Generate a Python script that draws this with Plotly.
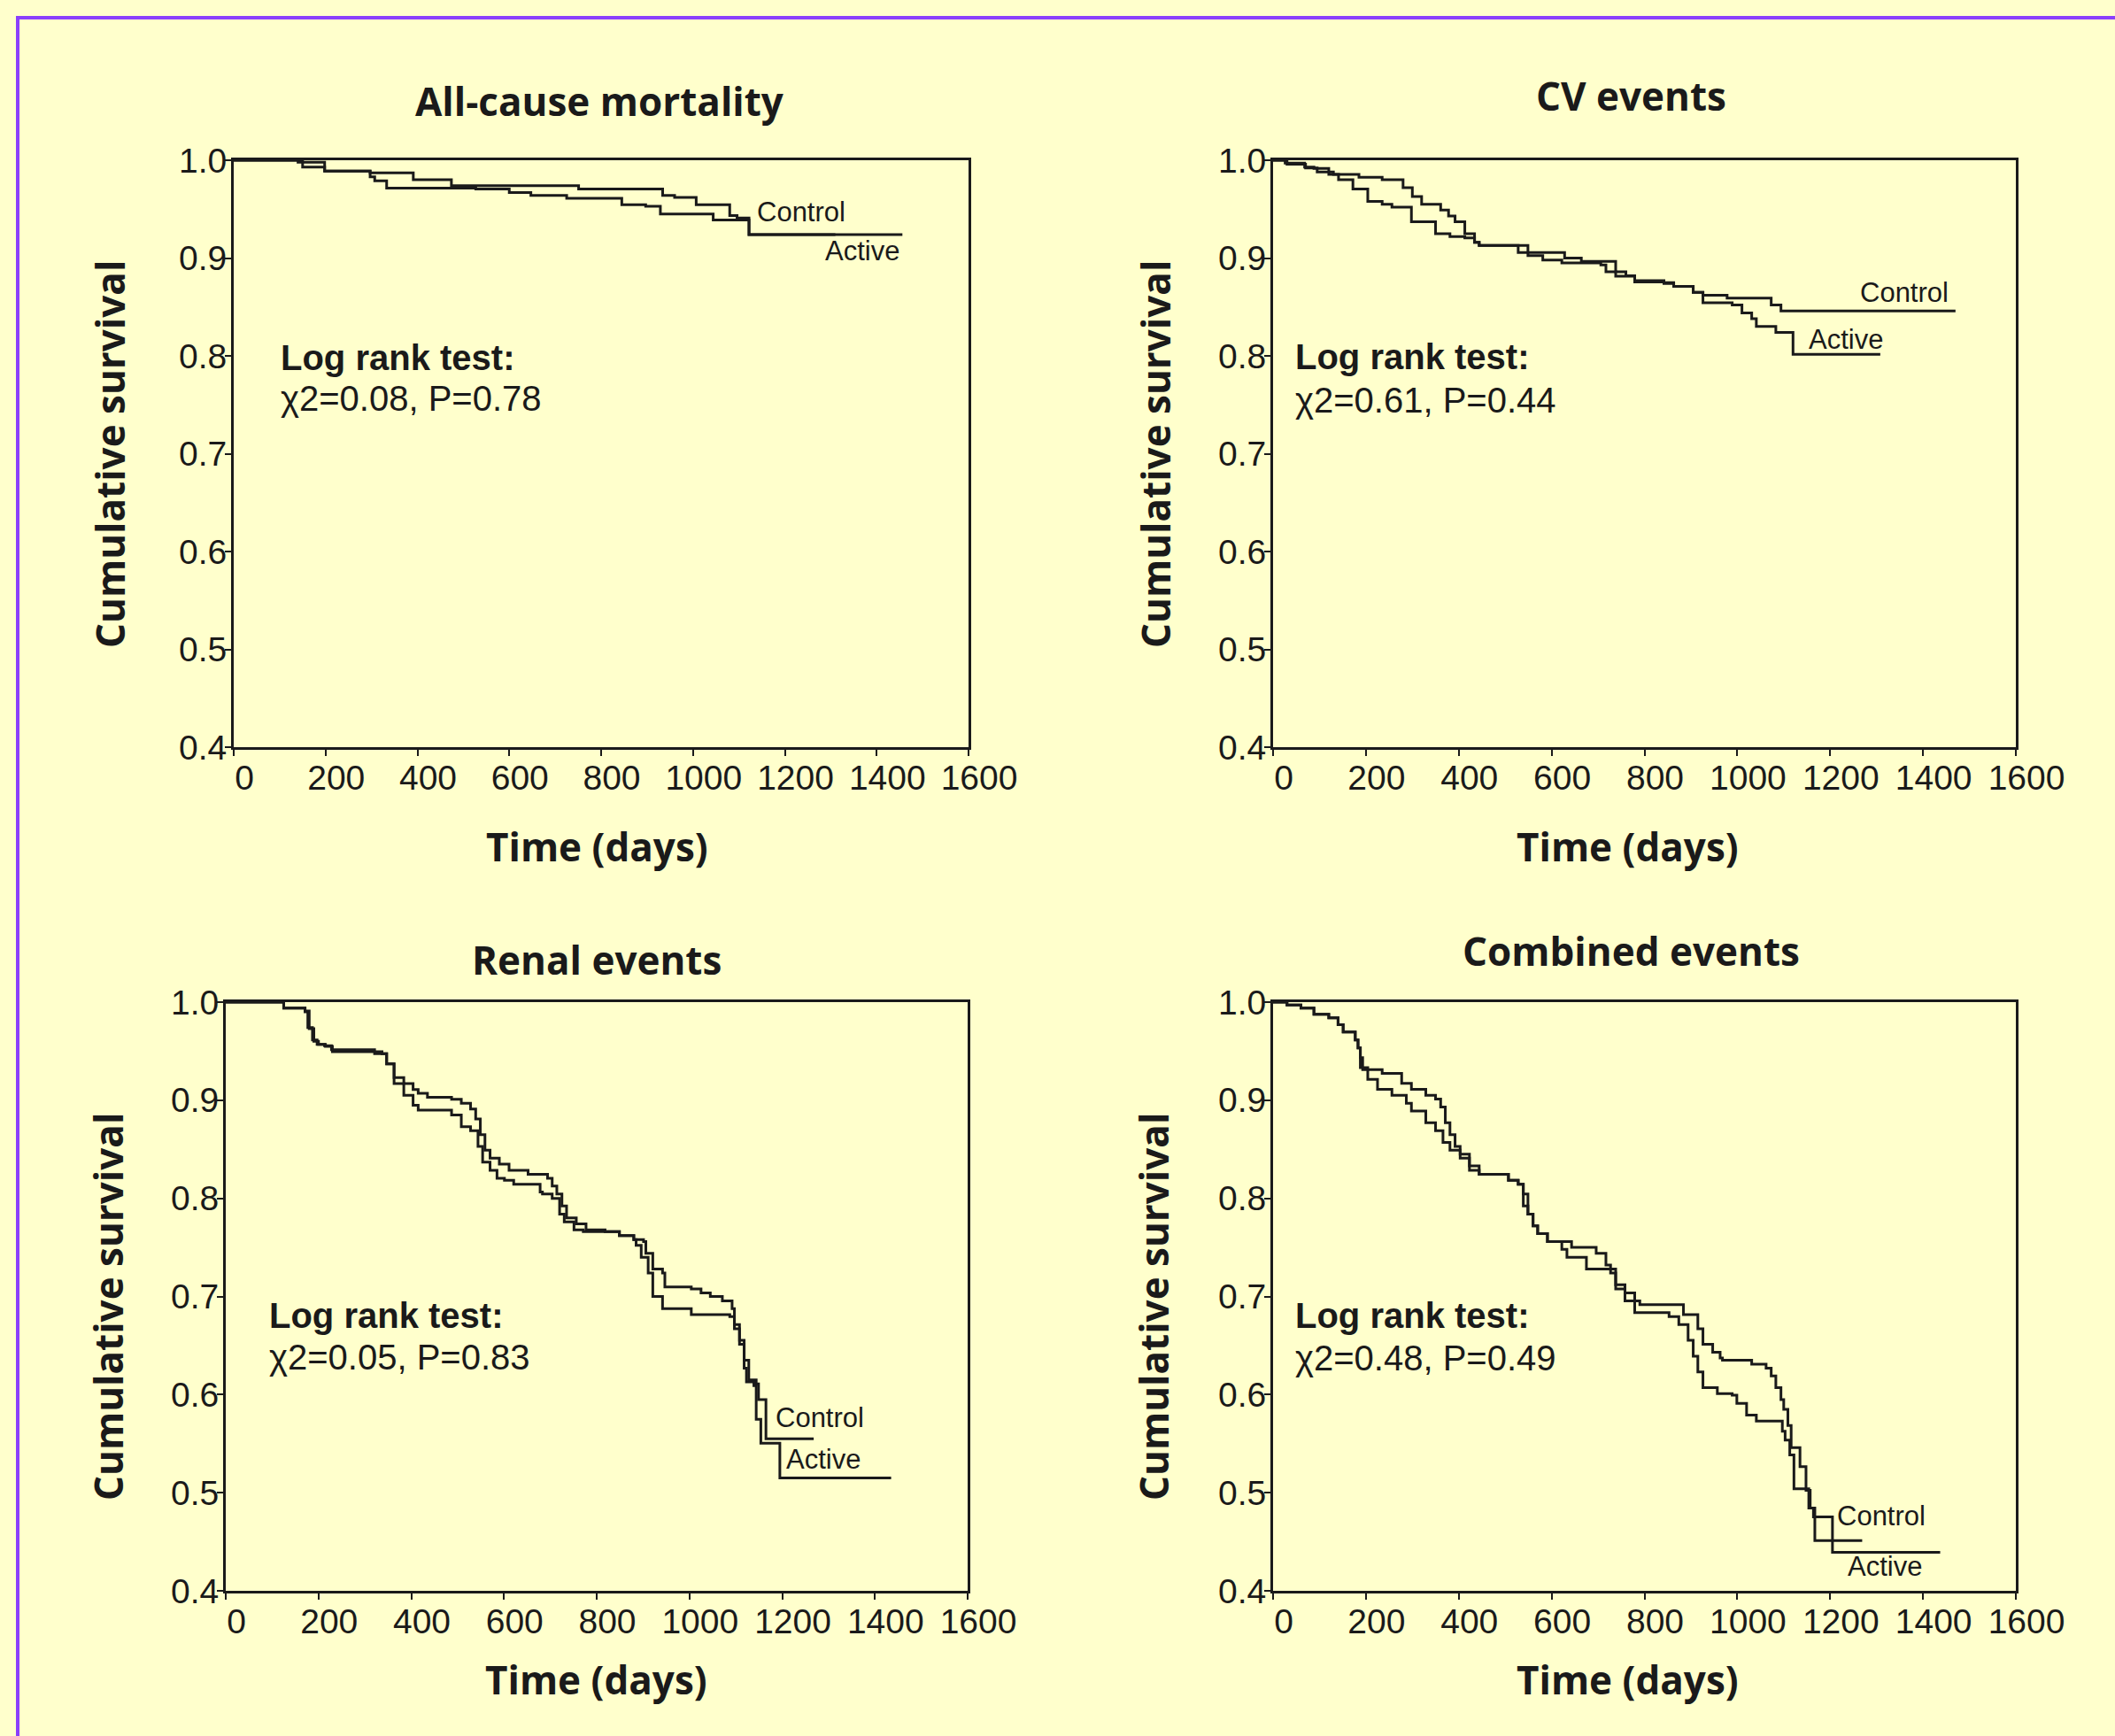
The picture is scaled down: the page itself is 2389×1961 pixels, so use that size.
import plotly.graph_objects as go

W, H = 2389, 1961

# ---------------- data (days, cumulative survival) ----------------
allcause_control = [(0, 1.0), (140, 0.998), (198, 0.989), (297, 0.987), (391, 0.980), (474, 0.974),
                    (751, 0.9705), (934, 0.964), (960, 0.962), (1007, 0.9545), (1080, 0.9435),
                    (1096, 0.941), (1122, 0.924), (1310, 0.924)]
allcause_active = [(0, 1.0), (150, 0.993), (198, 0.989), (297, 0.983), (307, 0.979), (333, 0.9715),
                   (527, 0.9705), (600, 0.967), (647, 0.964), (725, 0.961), (845, 0.9545), (897, 0.953),
                   (929, 0.945), (1044, 0.939), (1122, 0.924), (1456, 0.924)]

cv_control = [(0, 1.0), (30, 0.996), (70, 0.992), (95, 0.988), (130, 0.9855), (185, 0.9825), (235, 0.980),
              (280, 0.972), (300, 0.963), (320, 0.955), (361, 0.949), (378, 0.943), (392, 0.937),
              (413, 0.925), (434, 0.916), (444, 0.913), (528, 0.9056), (628, 0.900), (664, 0.8966),
              (738, 0.886), (760, 0.882), (779, 0.877), (842, 0.875), (863, 0.871), (905, 0.865),
              (926, 0.862), (978, 0.859), (1073, 0.852), (1094, 0.846), (1470, 0.846)]
cv_active = [(0, 1.0), (26, 0.997), (68, 0.993), (88, 0.9916), (120, 0.9855), (141, 0.980), (172, 0.9705),
             (204, 0.958), (235, 0.955), (256, 0.952), (298, 0.937), (350, 0.925), (381, 0.922),
             (413, 0.9207), (434, 0.916), (444, 0.913), (549, 0.9026), (581, 0.898), (622, 0.895),
             (706, 0.893), (717, 0.886), (738, 0.8815), (779, 0.8755), (842, 0.874), (863, 0.871),
             (905, 0.865), (926, 0.8543), (989, 0.852), (1010, 0.844), (1031, 0.838), (1041, 0.830),
             (1083, 0.824), (1120, 0.8015), (1308, 0.8015)]

renal_control = [(0, 1.0), (125, 0.994), (171, 0.990), (177, 0.974), (187, 0.9615), (197, 0.957),
                 (213, 0.9555), (228, 0.9514), (321, 0.9474), (347, 0.937), (363, 0.923), (384, 0.917),
                 (404, 0.911), (415, 0.907), (435, 0.903), (487, 0.901), (508, 0.897), (528, 0.891),
                 (539, 0.881), (549, 0.865), (559, 0.849), (570, 0.841), (590, 0.835), (611, 0.8285),
                 (652, 0.8245), (694, 0.8205), (704, 0.8125), (714, 0.8044), (725, 0.7923), (735, 0.780),
                 (756, 0.774), (777, 0.768), (818, 0.766), (849, 0.762), (880, 0.758), (901, 0.756),
                 (906, 0.744), (921, 0.728), (942, 0.724), (947, 0.7097), (1004, 0.7077), (1025, 0.7036),
                 (1045, 0.700), (1071, 0.6956), (1092, 0.6876), (1097, 0.6714), (1108, 0.6553),
                 (1118, 0.635), (1128, 0.615), (1144, 0.611), (1149, 0.595), (1165, 0.555), (1268, 0.555)]
renal_active = [(0, 1.0), (125, 0.994), (171, 0.991), (180, 0.973), (190, 0.960), (200, 0.957),
                (215, 0.955), (230, 0.9495), (337, 0.9474), (347, 0.937), (363, 0.917), (384, 0.905),
                (404, 0.895), (415, 0.890), (487, 0.885), (508, 0.873), (528, 0.869), (544, 0.853),
                (554, 0.837), (570, 0.8285), (585, 0.8205), (601, 0.8185), (621, 0.8144), (678, 0.8064),
                (683, 0.8044), (704, 0.800), (720, 0.784), (730, 0.776), (751, 0.768), (771, 0.766),
                (849, 0.762), (880, 0.758), (885, 0.752), (896, 0.740), (911, 0.724), (921, 0.700),
                (942, 0.6876), (1004, 0.6815), (1087, 0.6795), (1097, 0.667), (1108, 0.6513),
                (1118, 0.627), (1123, 0.613), (1139, 0.609), (1144, 0.5747), (1154, 0.5505),
                (1195, 0.515), (1435, 0.515)]

combined_control = [(0, 1.0), (30, 0.997), (60, 0.994), (88, 0.9877), (120, 0.984), (140, 0.977),
                    (151, 0.9696), (177, 0.9615), (183, 0.9534), (188, 0.9434), (193, 0.9313),
                    (235, 0.9273), (277, 0.9172), (298, 0.9112), (329, 0.9051), (350, 0.9011),
                    (361, 0.893), (371, 0.877), (381, 0.865), (392, 0.853), (403, 0.845), (423, 0.833),
                    (444, 0.8245), (507, 0.8185), (528, 0.8144), (539, 0.8044), (549, 0.784),
                    (560, 0.772), (570, 0.764), (591, 0.756), (643, 0.750), (696, 0.744), (717, 0.732),
                    (727, 0.724), (738, 0.712), (758, 0.7036), (779, 0.6956), (790, 0.6916),
                    (884, 0.6815), (915, 0.667), (926, 0.6513), (947, 0.6432), (963, 0.6372),
                    (968, 0.635), (1031, 0.631), (1062, 0.627), (1073, 0.619), (1083, 0.607),
                    (1094, 0.595), (1100, 0.585), (1109, 0.5686), (1116, 0.546), (1135, 0.5265),
                    (1148, 0.5025), (1157, 0.4844), (1167, 0.4513), (1269, 0.4513)]
combined_active = [(0, 1.0), (30, 0.997), (60, 0.994), (88, 0.9877), (120, 0.984), (140, 0.977),
                   (151, 0.9696), (177, 0.9615), (183, 0.9534), (188, 0.9333), (204, 0.9212),
                   (225, 0.9112), (256, 0.9051), (287, 0.897), (298, 0.889), (329, 0.877), (350, 0.869),
                   (366, 0.857), (381, 0.849), (403, 0.841), (423, 0.8285), (444, 0.8245), (507, 0.8185),
                   (528, 0.8144), (539, 0.7923), (549, 0.784), (560, 0.772), (570, 0.764), (591, 0.756),
                   (622, 0.748), (633, 0.740), (675, 0.728), (738, 0.7077), (758, 0.6956), (779, 0.6835),
                   (853, 0.6795), (874, 0.6714), (894, 0.6553), (905, 0.6392), (915, 0.623),
                   (926, 0.607), (957, 0.601), (989, 0.5995), (999, 0.591), (1020, 0.579),
                   (1041, 0.573), (1097, 0.5626), (1103, 0.5535), (1113, 0.5385), (1122, 0.504),
                   (1154, 0.4844), (1164, 0.4754), (1205, 0.4393), (1437, 0.4393)]

panel_titles = ["All-cause mortality", "CV events", "Renal events", "Combined events"]
log_rank_stats = ["χ2=0.08, P=0.78", "χ2=0.61, P=0.44", "χ2=0.05, P=0.83", "χ2=0.48, P=0.49"]
x_ticks = [0, 200, 400, 600, 800, 1000, 1200, 1400, 1600]
y_ticks = [0.4, 0.5, 0.6, 0.7, 0.8, 0.9, 1.0]
series_names = ["Control", "Active"]

# ---------------- layout geometry (pixels) ----------------
panels = [
    dict(ctrl=allcause_control, act=allcause_active, px=(264, 1094), py=(181, 844),
         title_c=(677, 114), ytitle_c=(124, 513), xtitle_c=(674, 956),
         lr=(98, 0.798, 0.757), ctrl_lab=(1135, 0.9475, "left"), act_lab=(1453, 0.907, "right")),
    dict(ctrl=cv_control, act=cv_active, px=(1438, 2277), py=(181, 844),
         title_c=(1842, 108), ytitle_c=(1305, 513), xtitle_c=(1838, 956),
         lr=(44, 0.799, 0.755), ctrl_lab=(1459, 0.865, "right"), act_lab=(1150, 0.817, "left")),
    dict(ctrl=renal_control, act=renal_active, px=(255, 1093), py=(1132, 1797),
         title_c=(674, 1084), ytitle_c=(122, 1476), xtitle_c=(673, 1897),
         lr=(90, 0.681, 0.638), ctrl_lab=(1182, 0.576, "left"), act_lab=(1204, 0.534, "left")),
    dict(ctrl=combined_control, act=combined_active, px=(1438, 2277), py=(1132, 1797),
         title_c=(1842, 1074), ytitle_c=(1303, 1476), xtitle_c=(1838, 1897),
         lr=(43, 0.681, 0.637), ctrl_lab=(1211, 0.476, "left"), act_lab=(1234, 0.425, "left")),
]

BG = "#FFFFCC"
INK = "#1a1a1a"
TICK_FONT = dict(family="Liberation Sans, Arial, sans-serif", size=39, color=INK)
TITLE_FONT = dict(family="Open Sans, Lato, sans-serif", size=44, color=INK)
TEXT_FONT = dict(family="Liberation Sans, Arial, sans-serif", size=40, color=INK)
LABEL_FONT = dict(family="Liberation Sans, Arial, sans-serif", size=31, color=INK)

fig = go.Figure()
layout = dict(width=W, height=H, autosize=False,
              margin=dict(l=0, r=0, t=0, b=0, pad=0, autoexpand=False),
              paper_bgcolor=BG, plot_bgcolor=BG, showlegend=False)
annotations = []

for i, p in enumerate(panels):
    k = "" if i == 0 else str(i + 1)
    xa, ya = "x" + k, "y" + k
    for series, name in ((p["ctrl"], series_names[0]), (p["act"], series_names[1])):
        fig.add_trace(go.Scatter(
            x=[d for d, s in series], y=[s for d, s in series], name=name,
            mode="lines", line=dict(color=INK, width=3, shape="hv"),
            xaxis=xa, yaxis=ya, hoverinfo="skip"))
    axis_common = dict(showline=True, linecolor=INK, linewidth=3, mirror=True,
                       ticks="outside", ticklen=7, tickwidth=2, tickcolor=INK, automargin=False,
                       showgrid=False, zeroline=False, tickfont=TICK_FONT, fixedrange=True)
    layout["xaxis" + k] = dict(axis_common, domain=[p["px"][0] / W, p["px"][1] / W],
                               range=[0, 1600], tickvals=x_ticks, anchor=ya,
                               ticklabelshift=12, ticklabelstandoff=-9)
    layout["yaxis" + k] = dict(axis_common, domain=[1 - p["py"][1] / H, 1 - p["py"][0] / H],
                               range=[0.4, 1.0], tickvals=y_ticks, tickformat=".1f", anchor=xa,
                               ticklabelstandoff=-10)

    annotations.append(dict(text="<b>%s</b>" % panel_titles[i], xref="paper", yref="paper",
                            x=p["title_c"][0] / W, y=1 - p["title_c"][1] / H,
                            xanchor="center", yanchor="middle", showarrow=False, font=TITLE_FONT))
    annotations.append(dict(text="<b>Cumulative survival</b>", xref="paper", yref="paper",
                            x=p["ytitle_c"][0] / W, y=1 - p["ytitle_c"][1] / H, textangle=-90,
                            xanchor="center", yanchor="middle", showarrow=False, font=TITLE_FONT))
    annotations.append(dict(text="<b>Time (days)</b>", xref="paper", yref="paper",
                            x=p["xtitle_c"][0] / W, y=1 - p["xtitle_c"][1] / H,
                            xanchor="center", yanchor="middle", showarrow=False, font=TITLE_FONT))
    lx, ly1, ly2 = p["lr"]
    annotations.append(dict(text="<b>Log rank test:</b>", xref=xa, yref=ya, x=lx, y=ly1,
                            xanchor="left", yanchor="middle", showarrow=False, font=TEXT_FONT))
    annotations.append(dict(text=log_rank_stats[i], xref=xa, yref=ya, x=lx, y=ly2,
                            xanchor="left", yanchor="middle", showarrow=False, font=TEXT_FONT))
    for (lxp, lyp, anc), name in ((p["ctrl_lab"], series_names[0]), (p["act_lab"], series_names[1])):
        annotations.append(dict(text=name, xref=xa, yref=ya, x=lxp, y=lyp,
                                xanchor=anc, yanchor="middle", showarrow=False, font=LABEL_FONT))

layout["annotations"] = annotations
layout["shapes"] = [dict(type="rect", xref="paper", yref="paper",
                         x0=20 / W, x1=1.05, y0=-0.05, y1=1 - 20 / H,
                         line=dict(color="#8a3ffc", width=4), fillcolor="rgba(0,0,0,0)")]
fig.update_layout(**layout)
fig.write_html("out.html", config={"displayModeBar": False, "staticPlot": True},
               post_script="document.body.style.margin='0';document.body.style.overflow='hidden';")
